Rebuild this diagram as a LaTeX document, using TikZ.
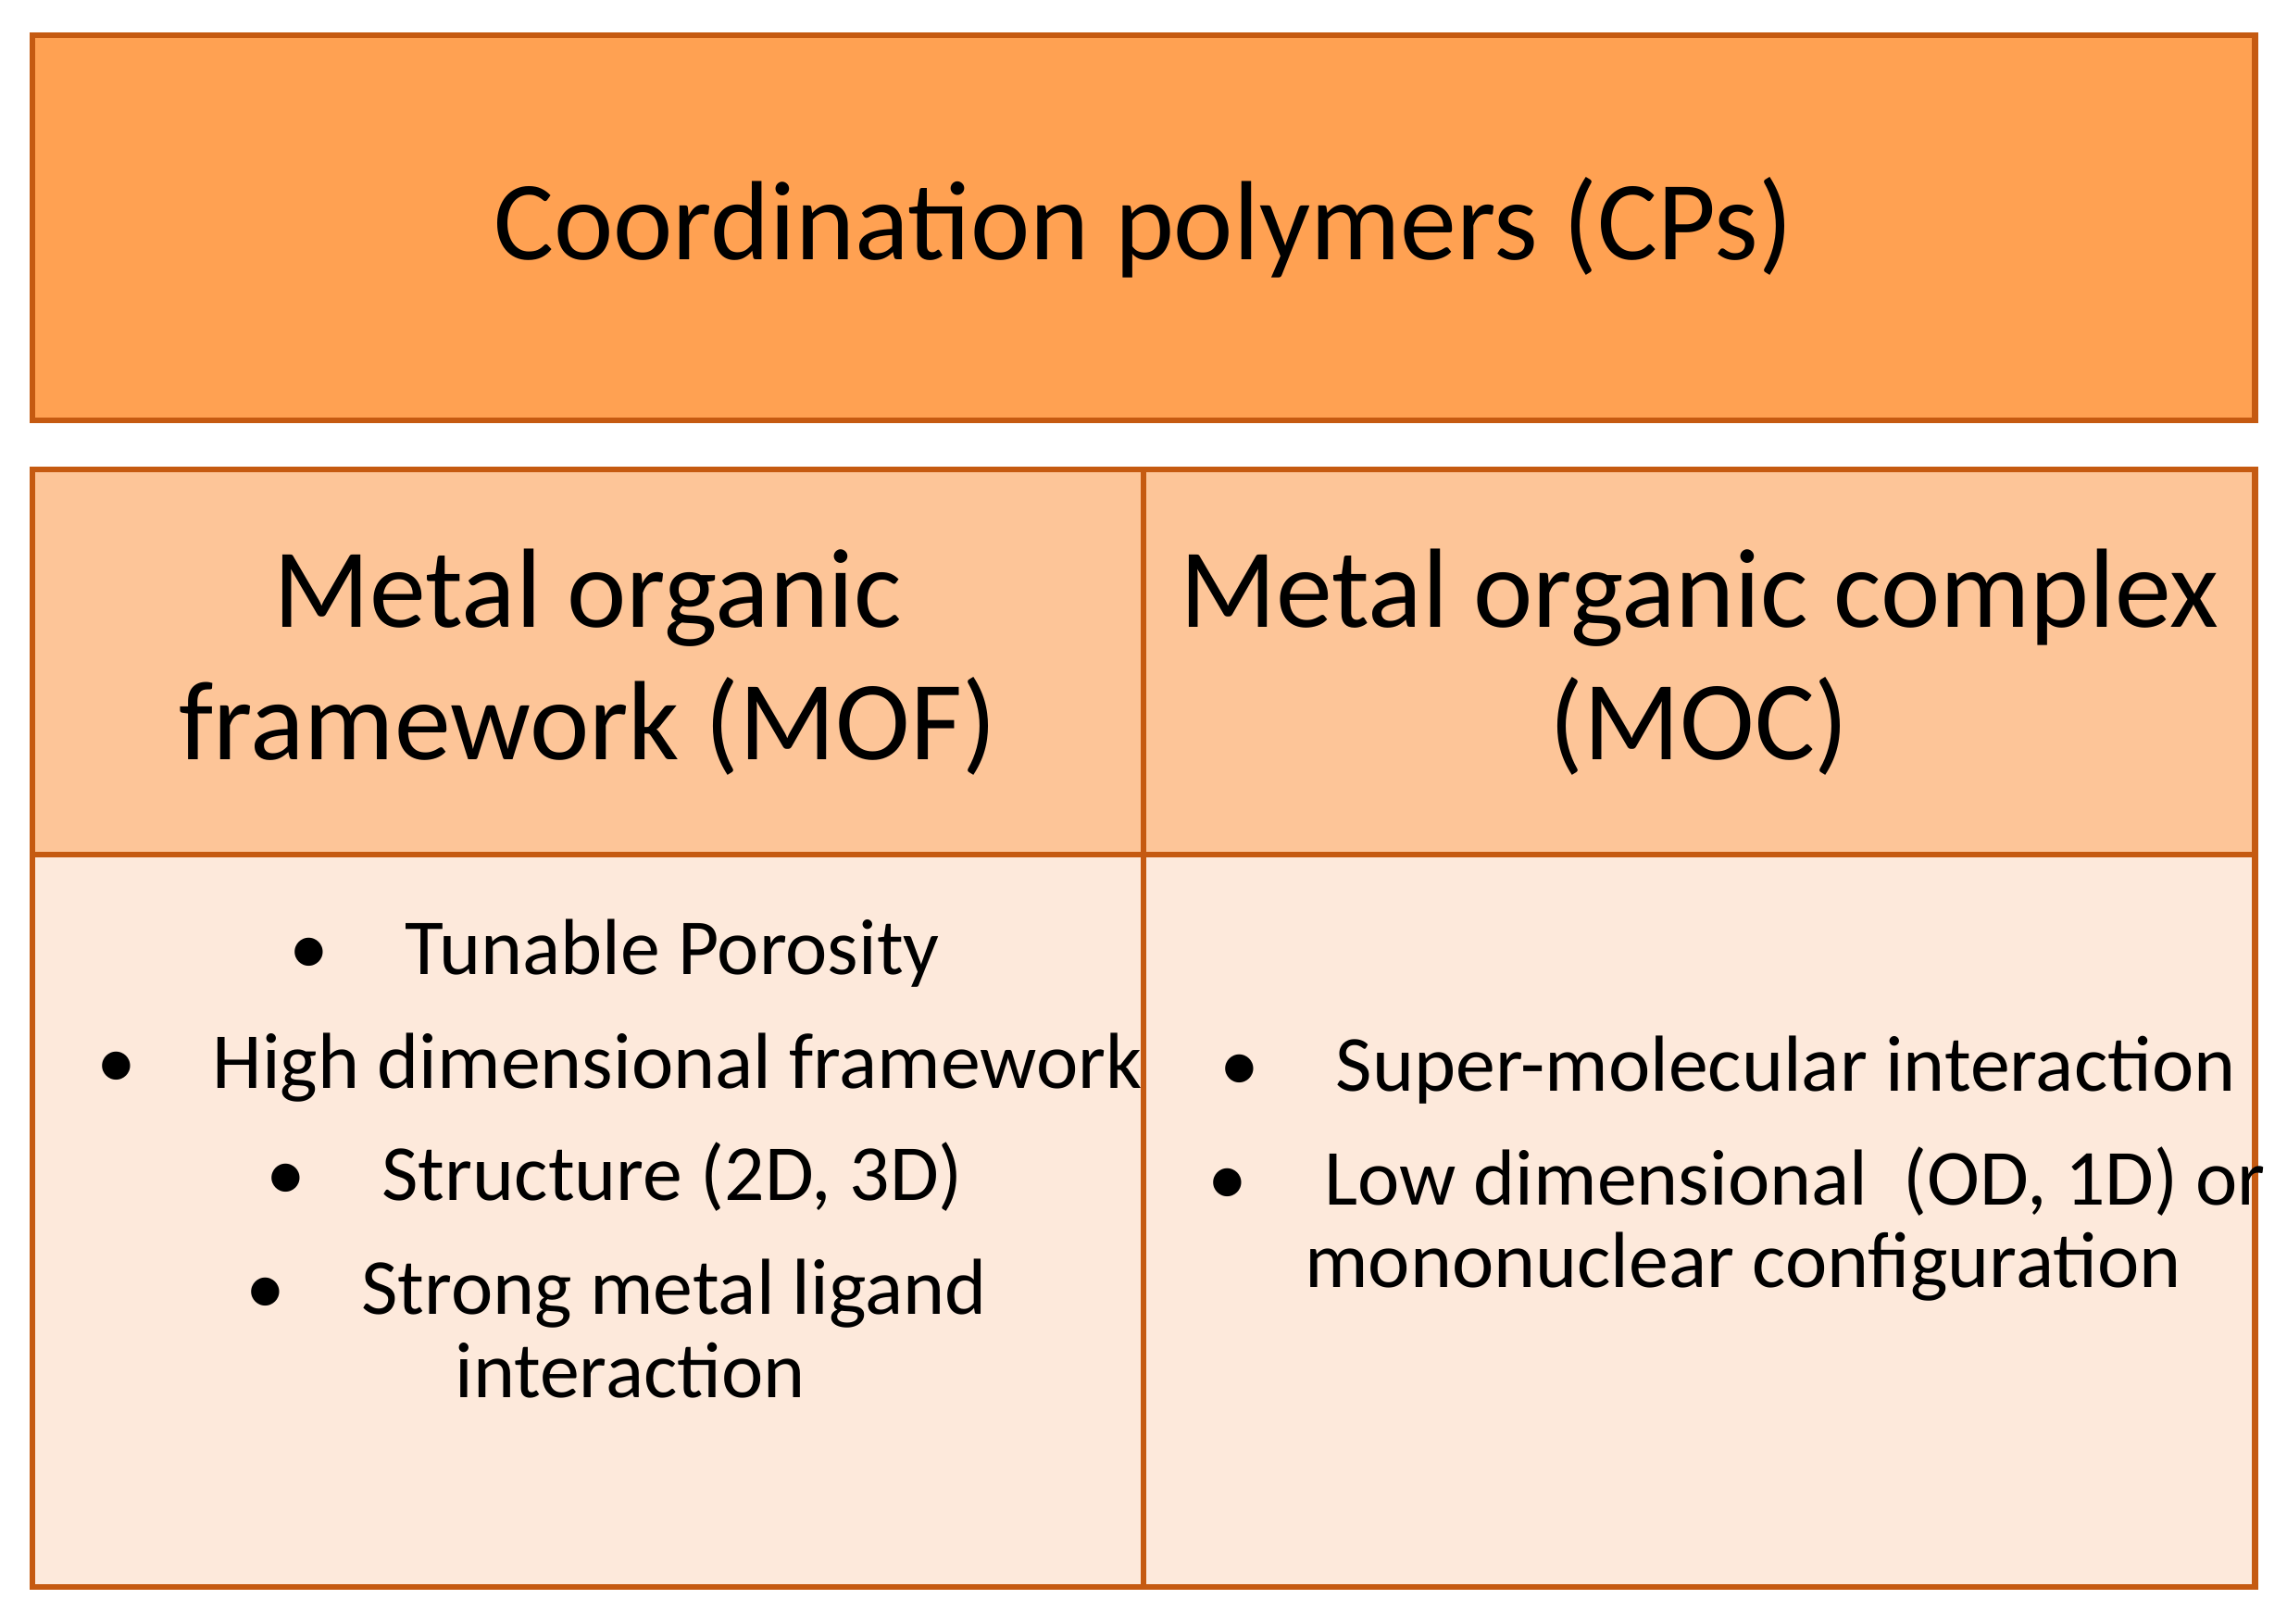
\documentclass[tikz,border=0pt]{standalone}
\usepackage{fontspec}
\setmainfont{Carlito}
\definecolor{bord}{HTML}{C55A11}
\definecolor{topf}{HTML}{FFA152}
\definecolor{headf}{HTML}{FDC598}
\definecolor{bodyf}{HTML}{FDE9DB}
\begin{document}
\begin{tikzpicture}[x=0.02cm,y=-0.02cm,
  box/.style={draw=bord,line width=0.08cm},
  big/.style={font=\fontsize{44}{52}\selectfont,align=center},
  bl/.style={anchor=base west,font=\fontsize{31}{36}\selectfont,inner sep=0},
  bt/.style={anchor=base,font=\fontsize{31}{36}\selectfont,inner sep=0}]
\useasboundingbox (0,0) rectangle (1568,1113);
\filldraw[box,fill=topf] (22,24) rectangle (1546,288);
\filldraw[box,fill=headf] (22,322) rectangle (784,586);
\filldraw[box,fill=headf] (784,322) rectangle (1546,586);
\filldraw[box,fill=bodyf] (22,586) rectangle (784,1088);
\filldraw[box,fill=bodyf] (784,586) rectangle (1546,1088);
\node[big] (t) at (784,156) {Coordination polymers (CPs)};
\node[big] (m1) at (403,454) {Metal organic\\framework (MOF)};
\node[big] (m2) at (1165,454) {Metal organic complex\\(MOC)};
\node[bl] (b1) at (198,668) {•\hspace{1.05cm}Tunable Porosity};
\node[bl] (b2) at (66,746) {•\hspace{1.05cm}High dimensional framework};
\node[bl] (b3) at (182,823) {•\hspace{1.05cm}Structure (2D, 3D)};
\node[bl] (b4) at (168,901) {•\hspace{1.05cm}Strong metal ligand};
\node[bt] (b5) at (432,958) {interaction};
\node[bl] (c1) at (836,748) {•\hspace{1.05cm}Super-molecular interaction};
\node[bl] (c2) at (828,826) {•\hspace{1.05cm}Low dimensional\ \ (OD, 1D) or};
\node[bt] (c3) at (1195,883) {mononuclear configuration};
\end{tikzpicture}
\end{document}
